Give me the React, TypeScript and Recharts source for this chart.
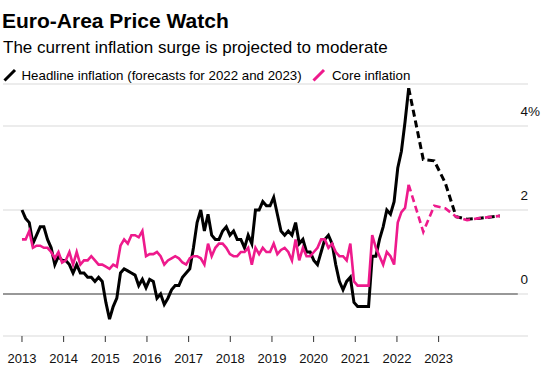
import React from 'react';
import { LineChart, Line, XAxis, YAxis, CartesianGrid, ReferenceLine } from 'recharts';

// Monthly year-over-year rates, Jan 2013 .. Nov 2021
const headline = [
  2.0, 1.8, 1.7, 1.2, 1.4, 1.6, 1.6, 1.3, 1.1, 0.7, 0.9, 0.8,
  0.8, 0.7, 0.5, 0.7, 0.5, 0.5, 0.4, 0.4, 0.3, 0.4, 0.3, -0.2,
  -0.6, -0.3, -0.1, 0.5, 0.6, 0.55, 0.5, 0.45, 0.2, 0.35, 0.15, 0.35,
  0.3, -0.1, 0.0, -0.25, -0.1, 0.1, 0.2, 0.2, 0.4, 0.5, 0.6, 1.1,
  1.7, 2.0, 1.5, 1.9, 1.4, 1.3, 1.3, 1.5, 1.6, 1.4, 1.5, 1.3,
  1.3, 1.1, 1.4, 1.2, 2.0, 2.0, 2.2, 2.1, 2.1, 2.3, 1.9, 1.5,
  1.4, 1.5, 1.4, 1.7, 1.2, 1.3, 1.0, 1.0, 0.8, 0.7, 1.0, 1.3,
  1.4, 1.2, 0.7, 0.3, 0.1, 0.3, 0.4, -0.2, -0.3, -0.3, -0.3, -0.3,
  0.9, 0.9, 1.3, 1.6, 2.0, 1.9, 2.2, 3.0, 3.4, 4.1, 4.9,
];

const core = [
  1.3, 1.3, 1.5, 1.1, 1.15, 1.15, 1.1, 1.1, 1.0, 0.85, 1.0, 0.75,
  0.8, 1.0, 0.7, 1.0, 0.7, 0.8, 0.8, 0.9, 0.8, 0.7, 0.7, 0.65,
  0.6, 0.7, 0.65, 1.15, 1.3, 1.2, 1.4, 1.4, 1.35, 1.5, 0.9, 0.95,
  0.95, 1.0, 0.9, 0.7, 0.8, 0.85, 0.9, 0.85, 0.75, 0.7, 0.85, 0.9,
  0.9, 0.85, 0.7, 1.2, 0.9, 1.1, 1.2, 1.2, 1.1, 0.95, 0.9, 0.9,
  1.0, 1.0, 1.1, 0.7, 1.1, 0.95, 1.1, 1.0, 1.0, 1.2, 0.95, 1.05,
  1.1, 1.0, 0.8, 1.3, 0.8, 1.1, 0.9, 0.9, 1.0, 1.1, 1.3, 1.3,
  1.1, 1.2, 1.0, 0.9, 0.9, 0.8, 1.2, 0.3, 0.2, 0.2, 0.2, 0.2,
  1.4, 1.1, 0.9, 0.7, 1.0, 0.9, 0.7, 1.7, 1.95, 2.05, 2.6,
];

// Quarterly forecasts 2022-2023, placed at quarter-end month (months since Jan 2013)
const forecastQuarters = ['Q1 22', 'Q2 22', 'Q3 22', 'Q4 22', 'Q1 23', 'Q2 23', 'Q3 23', 'Q4 23'];
const forecastMonth = [110, 113, 116, 119, 122, 125, 128, 131];
const headlineForecast = [3.2, 3.17, 2.65, 1.84, 1.78, 1.8, 1.83, 1.86];
const coreForecast = [1.48, 2.1, 2.04, 1.84, 1.76, 1.8, 1.83, 1.86];

const yearLabels = ['2013', '2014', '2015', '2016', '2017', '2018', '2019', '2020', '2021', '2022', '2023'];
const yearTicks = [0, 11.42, 22.84, 34.26, 45.68, 57.1, 68.52, 79.94, 91.36, 102.78, 114.2];
const yTicks = [0, 2, 4];

const PINK = '#ee1a8c';
const FONT = '"Liberation Sans", Arial, Helvetica, sans-serif';

const lastIdx = headline.length - 1;
const data: any[] = headline.map((v, i) => ({
  m: i,
  headline: v,
  core: core[i],
  ...(i === lastIdx ? { headlineF: v, coreF: core[i] } : {}),
}));
forecastQuarters.forEach((q, i) => {
  data.push({ m: forecastMonth[i], q, headlineF: headlineForecast[i], coreF: coreForecast[i] });
});

const YTick = (props: any) => {
  const { y, payload } = props;
  return (
    <text x={520.5} y={y - 10} fontSize={13.5} fill="#111" fontFamily={FONT} textAnchor="start">
      {payload.value === 4 ? '4%' : payload.value}
    </text>
  );
};

const Slash = ({ color, left }: { color: string; left: number }) => (
  <svg width={14} height={14} style={{ position: 'absolute', left, top: 67.5 }}>
    <line x1={1.5} y1={12.5} x2={12} y2={2} stroke={color} strokeWidth={3} />
  </svg>
);

export default function App() {
  return (
    <div style={{ position: 'relative', width: 548, height: 367, background: '#fff', fontFamily: FONT, color: '#000' }}>
      <style>{'body{margin:0}'}</style>
      <div style={{ position: 'absolute', left: 2, top: 10.2, fontSize: 21, lineHeight: '21px', fontWeight: 700, whiteSpace: 'nowrap' }}>
        Euro-Area Price Watch
      </div>
      <div style={{ position: 'absolute', left: 3, top: 38.6, fontSize: 17, lineHeight: '17px', whiteSpace: 'nowrap' }}>
        The current inflation surge is projected to moderate
      </div>
      <Slash color="#000" left={3} />
      <div style={{ position: 'absolute', left: 21.5, top: 68.7, fontSize: 13.3, lineHeight: '13.3px', whiteSpace: 'nowrap' }}>
        Headline inflation (forecasts for 2022 and 2023)
      </div>
      <Slash color={PINK} left={312} />
      <div style={{ position: 'absolute', left: 332, top: 68.7, fontSize: 13.3, lineHeight: '13.3px', whiteSpace: 'nowrap' }}>
        Core inflation
      </div>

      <div style={{ position: 'absolute', left: 0, top: 0 }}>
        <LineChart
          width={548}
          height={367}
          data={data}
          margin={{ top: 84, right: 0, left: 3, bottom: 0 }}
          style={{ fontFamily: FONT }}
        >
          <CartesianGrid vertical={false} stroke="#d9d9d9" />
          <XAxis
            type="number"
            dataKey="m"
            domain={[-5.2, 138.7]}
            ticks={yearTicks}
            tickFormatter={(v: number) => yearLabels[yearTicks.indexOf(v)]}
            axisLine={false}
            tickLine={{ stroke: '#333' }}
            tickSize={6}
            tickMargin={12}
            height={31}
            tick={{ fontSize: 13, fill: '#111' }}
            interval={0}
            allowDataOverflow
          />
          <YAxis
            orientation="right"
            domain={[-1, 5]}
            ticks={yTicks}
            width={20}
            axisLine={false}
            tickLine={false}
            tick={<YTick />}
            allowDataOverflow
          />
          <ReferenceLine
            segment={[{ x: -5.2, y: 0 }, { x: 135.9, y: 0 }]}
            stroke="#444"
            strokeWidth={1.2}
          />
          <Line type="linear" dataKey="headline" stroke="#000" strokeWidth={3} dot={false} isAnimationActive={false} />
          <Line type="linear" dataKey="headlineF" stroke="#000" strokeWidth={3} strokeDasharray="7 4" dot={false} isAnimationActive={false} />
          <Line type="linear" dataKey="core" stroke={PINK} strokeWidth={2.6} dot={false} isAnimationActive={false} />
          <Line type="linear" dataKey="coreF" stroke={PINK} strokeWidth={2.6} strokeDasharray="7 4" dot={false} isAnimationActive={false} />
        </LineChart>
      </div>
    </div>
  );
}
